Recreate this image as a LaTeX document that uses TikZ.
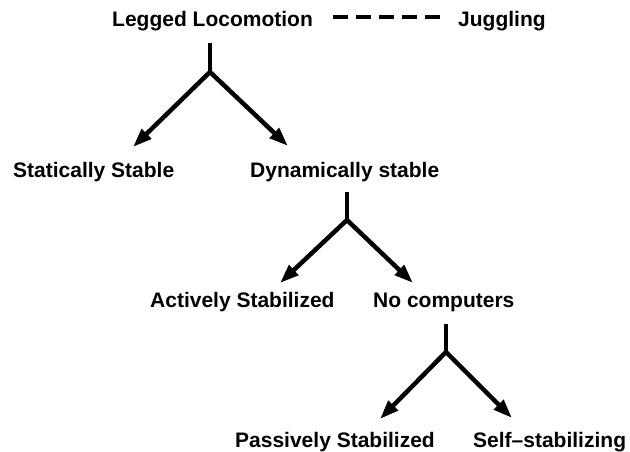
\documentclass[tikz,border=0pt]{standalone}
\usepackage{fontspec}
\setmainfont{Liberation Sans}
\usetikzlibrary{arrows.meta}
\begin{document}
\begin{tikzpicture}[x=1pt,y=-1pt,line join=round,
		lbl/.style={anchor=base west,inner sep=0pt,font=\fontsize{21}{25}\selectfont\bfseries},
		stem/.style={line width=4.5pt},
		arr/.style={line width=4.5pt,-{Triangle[length=19pt,width=13pt]}},
		dashline/.style={line width=4pt,dash pattern=on 15pt off 8pt}]
	\useasboundingbox (0,0) rectangle (630,452);
	% Row 1
	\node[lbl] (leg) at (112,27) {Legged Locomotion};
	\node[lbl] (jug) at (458,27) {Juggling};
	\draw[dashline] ([xshift=20pt,yshift=5pt]leg.east) -- ([xshift=-14pt,yshift=5pt]jug.west);
	\coordinate (s1) at (210,43);
	\coordinate (f1) at (210,72);
	\coordinate (t1) at (133,147);
	\coordinate (t2) at (288,146);
	\draw[stem] (s1) -- (f1);
	\draw[arr] (f1) -- (t1);
	\draw[arr] (f1) -- (t2);
	% Row 2
	\node[lbl] (sta) at (13,177) {Statically Stable};
	\node[lbl] (dyn) at (250,177) {Dynamically stable};
	\coordinate (s2) at (347,192);
	\coordinate (f2) at (347,220);
	\coordinate (t3) at (280,283);
	\coordinate (t4) at (413,283);
	\draw[stem] (s2) -- (f2);
	\draw[arr] (f2) -- (t3);
	\draw[arr] (f2) -- (t4);
	% Row 3
	\node[lbl] (act) at (150,307) {Actively Stabilized};
	\node[lbl] (noc) at (373,307) {No computers};
	\coordinate (s3) at (446,324);
	\coordinate (f3) at (446,352);
	\coordinate (t5) at (380,419);
	\coordinate (t6) at (512,418);
	\draw[stem] (s3) -- (f3);
	\draw[arr] (f3) -- (t5);
	\draw[arr] (f3) -- (t6);
	% Row 4
	\node[lbl] (pas) at (235,447) {Passively Stabilized};
	\node[lbl] (sel) at (473,447) {Self--stabilizing};
\end{tikzpicture}
\end{document}
